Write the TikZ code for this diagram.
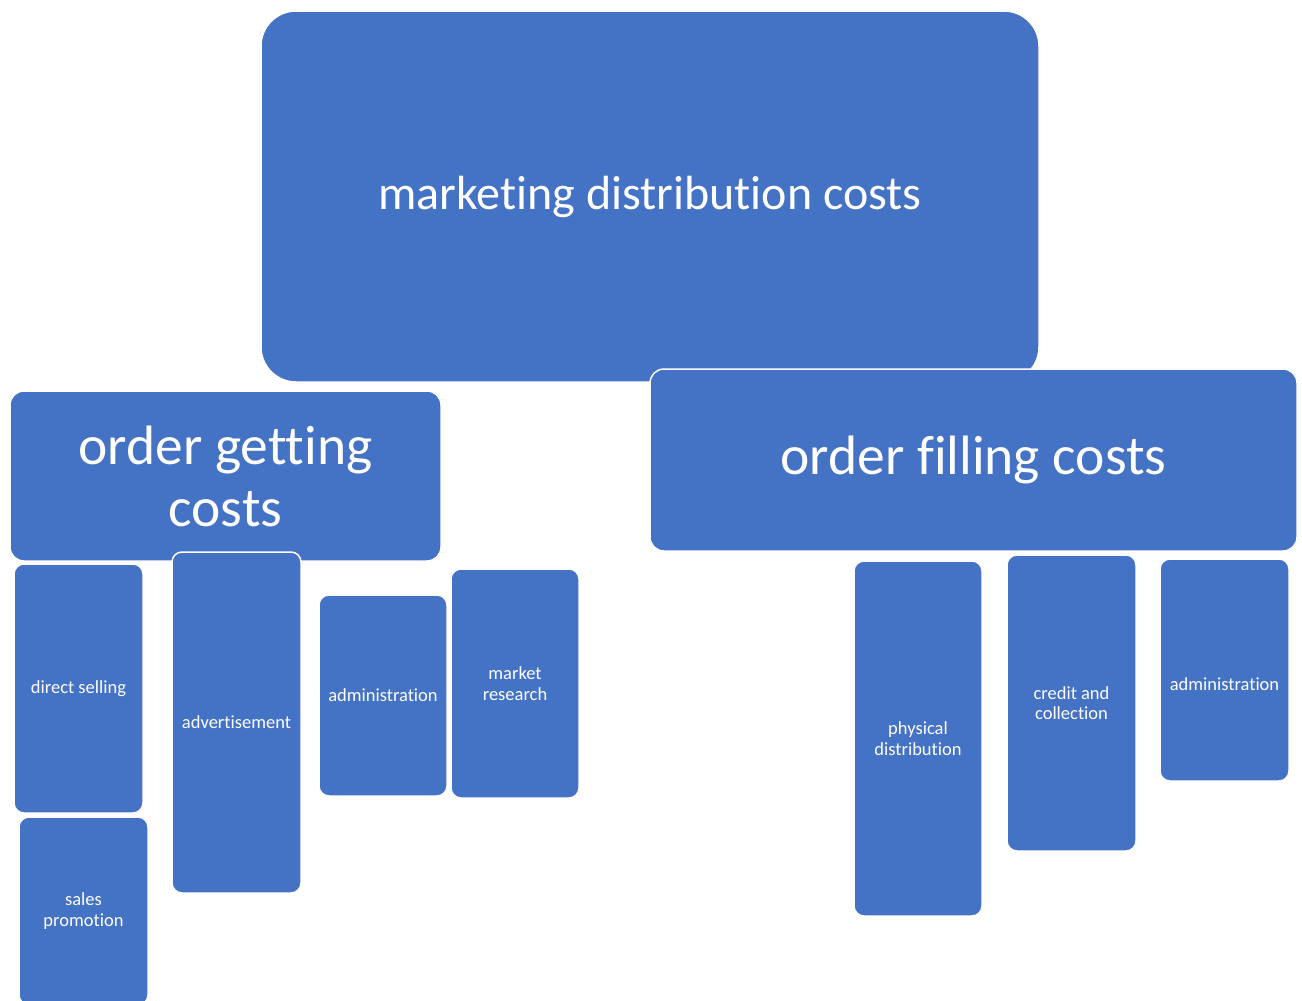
\documentclass[tikz,border=0pt]{standalone}
\usepackage{fontspec}
\setmainfont{Carlito}[Ligatures=NoCommon]

\definecolor{boxblue}{RGB}{68,114,196}

\begin{document}
\begin{tikzpicture}[x=1pt,y=-1pt,
  cost/.style={fill=boxblue, draw=white, line width=1.5pt, text=white,
               align=center, inner sep=0pt, outer sep=0pt},
  top/.style={cost, rounded corners=35pt, font=\fontsize{48}{52}\selectfont},
  mid/.style={cost, rounded corners=14pt, font=\fontsize{55.5}{62}\selectfont},
  leaf/.style={cost, rounded corners=10pt, font=\fontsize{18.5}{20.5}\selectfont},
  leaftext/.style={text=white, align=center, inner sep=0pt,
                   font=\fontsize{18.5}{20.5}\selectfont}]
\useasboundingbox (0,0) rectangle (1302,1001) ;
\clip (0,0) rectangle (1302,1001) ;
% top level
\node [top, minimum width=778pt, minimum height=371pt] (mdc) at (650,196.5)
  {marketing distribution costs} ;
% second level
\node [mid, minimum width=431pt, minimum height=170pt] (ogc) at (225.5,476)
  {order getting\\costs} ;
\node [mid, minimum width=647pt, minimum height=182pt] (ofc) at (973.5,460)
  {order filling costs} ;
% order getting costs
\node [leaf, minimum width=129pt, minimum height=249pt] (ds)   at (78.5,688.5)
  {direct selling} ;
\node [leaf, minimum width=129pt, minimum height=188pt] (sp)   at (83.5,911)
  {sales\\promotion} ;
\node [leaf, minimum width=129pt, minimum height=341pt] (adv)  at (236.5,722.5)
  {advertisement} ;
\node [leaf, minimum width=128pt, minimum height=201pt] (adm1) at (383,695.5)
  {administration} ;
\node [leaf, minimum width=128pt, minimum height=229pt] (mr)   at (515,683.5)
  {market\\research} ;
% order filling costs
\node [leaf, minimum width=128pt, minimum height=355pt] (pd)   at (918,738.5)
  {physical\\distribution} ;
\node [leaf, minimum width=129pt, minimum height=296pt] (cc)   at (1071.5,703)
  {credit and\\collection} ;
\node [leaf, minimum width=129pt, minimum height=222pt] (adm2) at (1224.5,670)
  {} ;
\node [leaftext] (adm2text) at ([yshift=-14pt]adm2.center) {administration} ;
\end{tikzpicture}
\end{document}
